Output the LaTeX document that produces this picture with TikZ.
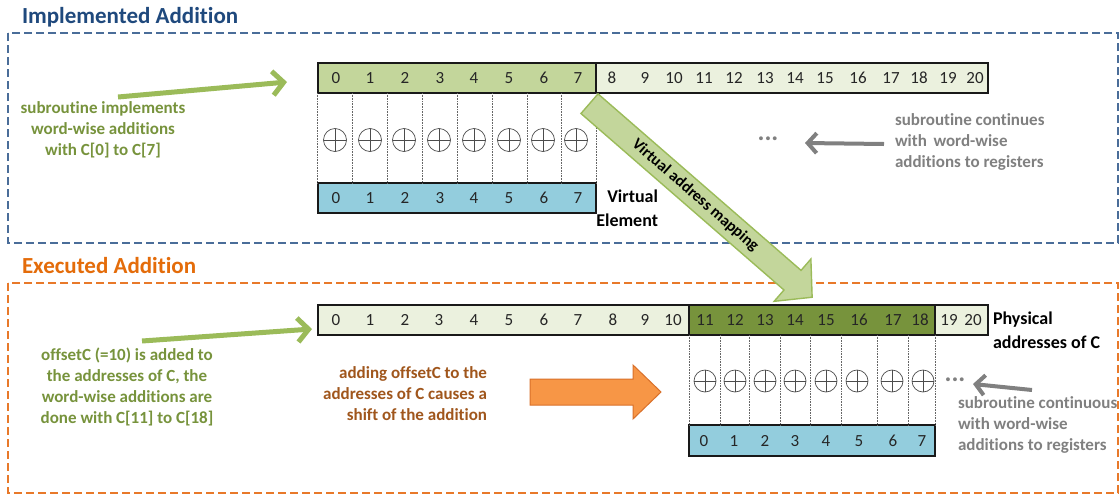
\documentclass[tikz,border=0pt]{standalone}
\usepackage{fontspec}
\setmainfont{Carlito}[Ligatures=NoCommon]
\usetikzlibrary{arrows.meta}

\definecolor{titleblue}{HTML}{1F497D}
\definecolor{boxblue}{HTML}{4A6D99}
\definecolor{titleorange}{HTML}{E46C0A}
\definecolor{boxorange}{HTML}{E8792A}
\definecolor{cellgreen}{HTML}{C3D69B}
\definecolor{cellpale}{HTML}{EBF1DE}
\definecolor{celldark}{HTML}{77933C}
\definecolor{cellblue}{HTML}{93CDDD}
\definecolor{numcol}{HTML}{262626}
\definecolor{textgreen}{HTML}{77933C}
\definecolor{arrowgreen}{HTML}{9BBB59}
\definecolor{textgray}{HTML}{808080}
\definecolor{textbrown}{HTML}{A0561C}
\definecolor{blockorange}{HTML}{F79646}
\definecolor{blockedge}{HTML}{D9702A}

\begin{document}
\begin{tikzpicture}[x=1pt,y=-1pt,
  every node/.style={inner sep=0pt,outer sep=0pt},
  cellrow/.style={draw=black!90,line width=1.4pt,anchor=north west,minimum height=30pt},
  num/.style={font=\fontsize{17}{20}\selectfont,text=numcol},
  dotsep/.style={densely dotted,draw=black!60,line width=0.6pt},
  oplus/.style={circle,draw=black!70,line width=0.7pt,minimum size=#1,
    path picture={\draw[black!70,line width=0.7pt]
      (path picture bounding box.north) -- (path picture bounding box.south)
      (path picture bounding box.west) -- (path picture bounding box.east);}},
  heading/.style={anchor=west,font=\fontsize{23}{27}\selectfont\bfseries},
  notetext/.style={font=\fontsize{17}{21}\selectfont\bfseries},
  blacklabel/.style={font=\fontsize{18}{24}\selectfont\bfseries,text=black},
  ellipsis/.style={font=\fontsize{26}{26}\selectfont\bfseries,text=textgray},
  greyarrow/.style={draw=textgray,line width=4pt,-{Straight Barb[length=9pt,width=20pt]}},
  greenarrow/.style={draw=arrowgreen,line width=5pt,-{Straight Barb[length=11pt,width=24pt]}},
  frameblue/.style={draw=boxblue,line width=2.4pt,dash pattern=on 8pt off 4pt},
  frameorange/.style={draw=boxorange,line width=2.4pt,dash pattern=on 8pt off 4pt}]

\useasboundingbox[fill=white] (0,0) rectangle (1120,496);

% ---------- section frames and titles ----------
\draw[frameblue] (8,33) rectangle (1118,243);
\draw[frameorange] (8,283) rectangle (1118,493);
\node[heading,text=titleblue] (t1) at (22,17) {Implemented Addition};
\node[heading,text=titleorange] (t2) at (22,266) {Executed Addition};

% ---------- implemented addition: C[0..20] and register row ----------
\node[cellrow,fill=cellgreen,minimum width=278pt] (vC) at (318,63) {};
\node[cellrow,fill=cellpale,minimum width=392pt] (vRest) at (596,63) {};
\node[cellrow,fill=cellblue,minimum width=278pt] (vR) at (318,183) {};

\foreach \x in {317.7,352.7,387.7,422.7,457.7,492.7,527.3,561.7,596}
  \draw[dotsep] (\x,93) -- (\x,183);
\foreach \x in {335,370,404,439,474,509,543,576}
  \node[oplus=23pt] at (\x,140) {};

\foreach \x/\n in {336/0,370/1,405/2,440/3,474/4,509/5,544/6,578/7}{
  \node[num] at (\x,78) {\n};
  \node[num] at (\x,198) {\n};}
\foreach \x/\n in {612/8,645/9,674/10,704/11,734/12,765/13,795/14,825/15,858/16,891/17,919/18,948/19,975/20}
  \node[num] at (\x,78) {\n};

\node[blacklabel,align=right,anchor=east] (velem) at (658,208)
  {Virtual\\Element};

\node[notetext,align=center,text=textgreen] (s1) at (103,130)
  {subroutine implements\\word-wise additions\\with C[0] to C[7]};
\coordinate (g1a) at (118,97);
\coordinate (g1b) at (287,82);
\draw[greenarrow] (g1a) -- (g1b);

\node[ellipsis] (dots1) at (768,139) {...};
\node[notetext,align=left,anchor=west,text=textgray] (s2) at (895,142)
  {\baselineskip=20.5pt subroutine continues\\with\, word-wise\\additions to registers};
\coordinate (ga) at (884,144);
\coordinate (gb) at (805,143);
\draw[greyarrow] (ga) -- (gb);

% ---------- executed addition: physical addresses ----------
\node[cellrow,fill=cellpale,minimum width=371pt] (pLow) at (318,305) {};
\node[cellrow,fill=celldark,minimum width=246pt] (pC) at (689,305) {};
\node[cellrow,fill=cellpale,minimum width=53pt] (pHigh) at (935,305) {};
\node[cellrow,fill=cellblue,minimum width=246pt,minimum height=31pt] (pR) at (689,425) {};

\foreach \x in {689,720,749,780,810,841,877,908,935}
  \draw[dotsep] (\x,335) -- (\x,425);
\foreach \x in {705,735,765,795,826,857,892,923}
  \node[oplus=22pt] at (\x,381) {};

\foreach \x/\n in {336/0,370/1,405/2,439/3,474/4,509/5,544/6,578/7,613/8,645/9,673/10,705/11,735/12,765/13,795/14,826/15,859/16,893/17,920/18,949/19,973/20}
  \node[num] at (\x,320) {\n};
\foreach \x/\n in {704/0,734/1,765/2,795/3,826/4,859/5,893/6,922/7}
  \node[num] at (\x,441) {\n};

\node[blacklabel,align=left,anchor=west] (phys) at (993,330)
  {Physical\\addresses of C};

\node[notetext,align=center,text=textgreen] (s3) at (127,386.5)
  {offsetC (=10) is added to\\the addresses of C, the\\word-wise additions are\\done with C[11] to C[18]};
\coordinate (g2a) at (142,341);
\coordinate (g2b) at (312,329);
\draw[greenarrow] (g2a) -- (g2b);

\node[notetext,align=right,anchor=east,text=textbrown] (s4) at (487,393.5)
  {adding offsetC to the\\addresses of C causes a\\shift of the addition};

\draw[fill=blockorange,draw=blockedge,line width=1pt]
  (530,379) -- (633,379) -- (633,365) -- (661,392) -- (633,419) -- (633,405) -- (530,405) -- cycle;

\node[ellipsis] (dots2) at (955,380) {...};
\node[notetext,align=left,anchor=west,text=textgray] (s5) at (958,424.5)
  {\baselineskip=20.5pt subroutine continuous\\with word-wise\\additions to registers};
\coordinate (gc) at (1032,390);
\coordinate (gd) at (973,384);
\draw[greyarrow] (gc) -- (gd);

% ---------- virtual address mapping block arrow ----------
\begin{scope}[transform canvas={shift={(589.5,103.7)},rotate=-41}]
  \draw[draw=arrowgreen,line width=1.4pt,top color=cellgreen,middle color=cellpale,bottom color=cellgreen]
    (0,-13) -- (269,-13) -- (269,-28) -- (295,0) -- (269,28) -- (269,13) -- (0,13) -- cycle;
\end{scope}
\node[font=\fontsize{16}{18}\selectfont\bfseries,text=black,rotate=-41] (vmap) at (695.2,195.5) {Virtual address mapping};

\end{tikzpicture}
\end{document}
